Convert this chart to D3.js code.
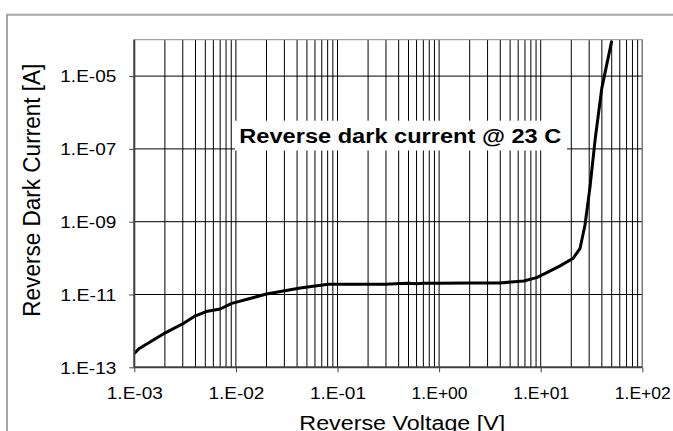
<!DOCTYPE html>
<html><head><meta charset="utf-8">
<script src="https://cdn.jsdelivr.net/npm/d3@7"></script>
<style>body{margin:0;background:#fff}svg{display:block}text{font-family:"Liberation Sans",Arial,sans-serif;fill:#000}</style>
</head><body>
<svg id="c" width="673" height="431"></svg>
<script>
const xTicks = [1e-3, 1e-2, 1e-1, 1e0, 1e1, 1e2];
const xTickLabels = ["1.E-03", "1.E-02", "1.E-01", "1.E+00", "1.E+01", "1.E+02"];
const yTicks = [1e-13, 1e-11, 1e-9, 1e-7, 1e-5];
const yTickLabels = ["1.E-13", "1.E-11", "1.E-09", "1.E-07", "1.E-05"];
const voltage = [0.001, 0.00112, 0.00204, 0.00303, 0.004, 0.0051, 0.007, 0.0091, 0.02, 0.043, 0.081, 0.3, 0.41, 0.5, 0.6, 0.7, 1.0, 2.0, 4.0, 6.8, 9.1, 11.5, 15.5, 20.9, 24.4, 27.3, 30.6, 34.3, 39.9, 50];
const current = [2.4e-13, 3.3e-13, 9.0e-13, 1.6e-12, 2.6e-12, 3.4e-12, 4.0e-12, 5.7e-12, 1.03e-11, 1.5e-11, 1.9e-11, 1.92e-11, 2.0e-11, 2.05e-11, 1.98e-11, 2.03e-11, 2.05e-11, 2.07e-11, 2.08e-11, 2.35e-11, 2.9e-11, 4.0e-11, 6.1e-11, 9.9e-11, 1.86e-10, 8.1e-10, 9.2e-9, 1.76e-7, 4.6e-6, 9.3e-5];
const chartTitle = "Reverse dark current @ 23 C";
const xTitle = "Reverse Voltage [V]";
const yTitle = "Reverse Dark Current [A]";

const svg = d3.select("#c");
const L = 134.3, R = 642.3, T = 39.7, B = 367.3;
const x = d3.scaleLog().domain([1e-3, 1e2]).range([L, R]);
const y = d3.scaleLog().domain([1e-13, 1e-4]).range([B, T]);

// outer chart border
svg.append("path").attr("d", `M7,431 L7,14.7 L673,14.7`).attr("fill", "none").attr("stroke", "#a6a6a6").attr("stroke-width", 2);

// vertical grid (major + minor)
const vgrid = [];
for (let e = -3; e < 2; e++) for (let m = 1; m <= 9; m++) vgrid.push(m * Math.pow(10, e));
vgrid.push(1e2);
svg.append("g").selectAll("line").data(vgrid).join("line")
  .attr("x1", d => x(d)).attr("x2", d => x(d)).attr("y1", T).attr("y2", B)
  .attr("stroke", "#000").attr("stroke-width", 1);
// horizontal grid
svg.append("g").selectAll("line").data(yTicks.slice(1)).join("line")
  .attr("x1", L).attr("x2", R).attr("y1", d => y(d)).attr("y2", d => y(d))
  .attr("stroke", "#000").attr("stroke-width", 1);

// plot border top/right
svg.append("path").attr("d", `M${L},${T} L${R},${T} L${R},${B}`).attr("fill", "none").attr("stroke", "#8c8c8c").attr("stroke-width", 1);

// title box
svg.append("rect").attr("x", 235).attr("y", 120.7).attr("width", 332).attr("height", 29.8).attr("fill", "#fff");
svg.append("text").attr("x", 239.3).attr("y", 142.5).attr("font-size", 19.5).attr("font-weight", "bold")
  .attr("textLength", 322).attr("lengthAdjust", "spacingAndGlyphs").text(chartTitle);

// curve
svg.append("clipPath").attr("id", "pc").append("rect").attr("x", L).attr("y", T).attr("width", R - L).attr("height", B - T);
const pts = voltage.map((v, i) => [v, current[i]]);
svg.append("path").datum(pts).attr("clip-path", "url(#pc)")
  .attr("d", d3.line().x(d => x(d[0])).y(d => y(d[1])))
  .attr("fill", "none").attr("stroke", "#000").attr("stroke-width", 3).attr("stroke-linejoin", "round");

// axes
const xa = svg.append("g").attr("transform", `translate(0,${B})`)
  .call(d3.axisBottom(x).tickValues(xTicks).tickFormat((d, i) => xTickLabels[i]).tickSize(5).tickPadding(14));
const ya = svg.append("g").attr("transform", `translate(${L},0)`)
  .call(d3.axisLeft(y).tickValues(yTicks).tickFormat((d, i) => yTickLabels[i]).tickSize(5).tickPadding(13));
[xa, ya].forEach(g => {
  g.select(".domain").attr("stroke", "#404040").attr("stroke-width", 2);
  g.selectAll(".tick line").attr("stroke", "#404040").attr("stroke-width", 1);
  g.selectAll("text").attr("font-family", "Liberation Sans, Arial, sans-serif").attr("font-size", 16)
    .attr("fill", "#000").attr("textLength", 56).attr("lengthAdjust", "spacingAndGlyphs");
});
xa.select(".domain").attr("d", `M${L},0H${R}`);
ya.select(".domain").attr("d", `M0,${B}V${T}`);
xa.selectAll("text").attr("dy", null).attr("y", 32);
ya.selectAll("text").attr("dy", "0.36em");

// axis titles
svg.append("text").attr("x", 299.3).attr("y", 429.5).attr("font-size", 20)
  .attr("textLength", 206).attr("lengthAdjust", "spacingAndGlyphs").text(xTitle);
svg.append("text").attr("transform", "translate(40,316.7) rotate(-90)").attr("font-size", 23)
  .attr("textLength", 253).attr("lengthAdjust", "spacingAndGlyphs").text(yTitle);
</script>
</body></html>
